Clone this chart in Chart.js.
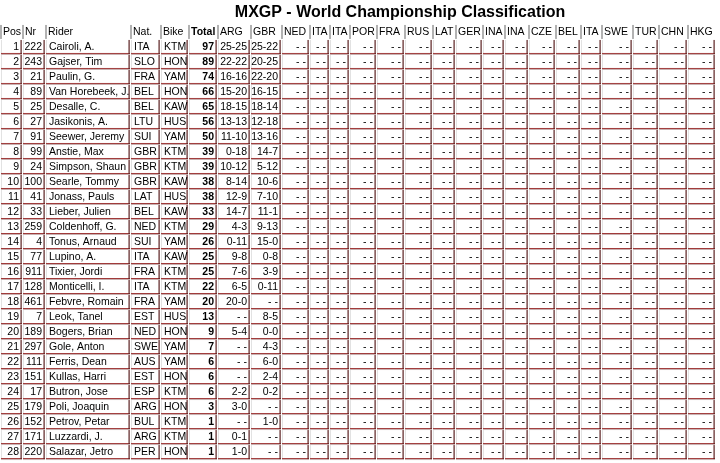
<!DOCTYPE html>
<html><head><meta charset="utf-8">
<script src="https://cdn.jsdelivr.net/npm/chart.js@4"></script>
<style>html,body{margin:0;padding:0;background:#fff}#w{width:720px;height:463px}</style>
</head><body><div id="w"><canvas id="c"></canvas></div>
<script>
const headers = ["Pos","Nr","Rider","Nat.","Bike","Total","ARG","GBR","NED","ITA","ITA","POR","FRA","RUS","LAT","GER","INA","INA","CZE","BEL","ITA","SWE","TUR","CHN","HKG"];
const pos = [1,2,3,4,5,6,7,8,9,10,11,12,13,14,15,16,17,18,19,20,21,22,23,24,25,26,27,28];
const nr = [222,243,21,89,25,27,91,99,24,100,41,33,259,4,77,911,128,461,7,189,297,111,151,17,179,152,171,220];
const riders = ["Cairoli, A.","Gajser, Tim","Paulin, G.","Van Horebeek, J.","Desalle, C.","Jasikonis, A.","Seewer, Jeremy","Anstie, Max","Simpson, Shaun","Searle, Tommy","Jonass, Pauls","Lieber, Julien","Coldenhoff, G.","Tonus, Arnaud","Lupino, A.","Tixier, Jordi","Monticelli, I.","Febvre, Romain","Leok, Tanel","Bogers, Brian","Gole, Anton","Ferris, Dean","Kullas, Harri","Butron, Jose","Poli, Joaquin","Petrov, Petar","Luzzardi, J.","Salazar, Jetro"];
const nat = ["ITA","SLO","FRA","BEL","BEL","LTU","SUI","GBR","GBR","GBR","LAT","BEL","NED","SUI","ITA","FRA","ITA","FRA","EST","NED","SWE","AUS","EST","ESP","ARG","BUL","ARG","PER"];
const bike = ["KTM","HON","YAM","HON","KAW","HUS","YAM","KTM","KTM","KAW","HUS","KAW","KTM","YAM","KAW","KTM","KTM","YAM","HUS","HON","YAM","YAM","HON","KTM","HON","KTM","KTM","HON"];
const total = [97,89,74,66,65,56,50,39,39,38,38,33,29,26,25,25,22,20,13,9,7,6,6,6,3,1,1,1];
const arg = ["25-25","22-22","16-16","15-20","18-15","13-13","11-10","0-18","10-12","8-14","12-9","14-7","4-3","0-11","9-8","7-6","6-5","20-0","- -","5-4","- -","- -","- -","2-2","3-0","- -","0-1","1-0"];
const gbr = ["25-22","20-25","22-20","16-15","18-14","12-18","13-16","14-7","5-12","10-6","7-10","11-1","9-13","15-0","0-8","3-9","0-11","- -","8-5","0-0","4-3","6-0","2-4","0-2","- -","1-0","- -","- -"];
const emptyResult = "- -";

// layout (not data)
const colEdges = [0,22,45,130,160,188,217,250,281,309,329,349,376,404,432,455,482,504,528,555,580,601,632,658,687,715];
const align = ["right","right","left","left","left","right"];
const FONT = '10.5px "Liberation Sans", Arial, sans-serif';

const rows = pos.map((p,i)=>{
  const r=[String(p),String(nr[i]),riders[i],nat[i],bike[i],String(total[i]),arg[i],gbr[i]];
  while(r.length<headers.length) r.push(emptyResult);
  return r;
});

const tablePlugin = {
  id:'table',
  afterDraw(chart){
    const {ctx, scales:{x,y}} = chart;
    ctx.save();
    ctx.fillStyle='#000';
    ctx.font='bold 16px "Liberation Sans", Arial, sans-serif';
    ctx.textAlign='center'; ctx.textBaseline='middle';
    ctx.fillText('MXGP - World Championship Classification', x.getPixelForValue(400), y.getPixelForValue(-2.27));
    const H = 15;
    headers.forEach((h,c)=>{
      const x0=x.getPixelForValue(colEdges[c]);
      const yc=y.getPixelForValue(-1);
      ctx.fillStyle='#666'; ctx.fillRect(x0+0.5,yc-7,1,H-1);
      ctx.fillStyle='#000';
      ctx.font=(c===5?'bold ':'')+FONT;
      ctx.textAlign='left';
      ctx.fillText(h,x0+3,yc+0.5);
    });
    rows.forEach((r,ri)=>{
      const yc=y.getPixelForValue(ri);
      r.forEach((v,c)=>{
        const x0=x.getPixelForValue(colEdges[c]), x1=x.getPixelForValue(colEdges[c+1]);
        const top=yc-7, bot=yc+7;
        ctx.fillStyle='#e2e2e2'; ctx.fillRect(x0+1,top,1,bot-top);
        ctx.fillStyle='#a03a3a'; ctx.fillRect(x0+1,bot-1,x1-x0-1,1);
        ctx.fillStyle='#c8b0b0'; ctx.fillRect(x0+1,bot,x1-x0-1,1);
        ctx.fillStyle='#5a2020'; ctx.fillRect(x1-1.5,top,1.2,bot-top);
        ctx.fillStyle='#000';
        ctx.font=(c===5?'bold ':'')+FONT;
        const a = c<align.length?align[c]:'right';
        ctx.textAlign=a;
        ctx.fillText(v, a==='left'?x0+4:x1-3, yc+0.5);
      });
    });
    ctx.restore();
  }
};

new Chart(document.getElementById('c'),{
  type:'scatter',
  data:{datasets:[{data:[]}]},
  options:{
    responsive:true, maintainAspectRatio:false, animation:false,
    layout:{padding:0},
    plugins:{legend:{display:false},tooltip:{enabled:false}},
    scales:{
      x:{type:'linear',min:0,max:720,display:false},
      y:{type:'linear',min:-3.13,max:27.73,reverse:true,display:false}
    }
  },
  plugins:[tablePlugin]
});
</script></body></html>
